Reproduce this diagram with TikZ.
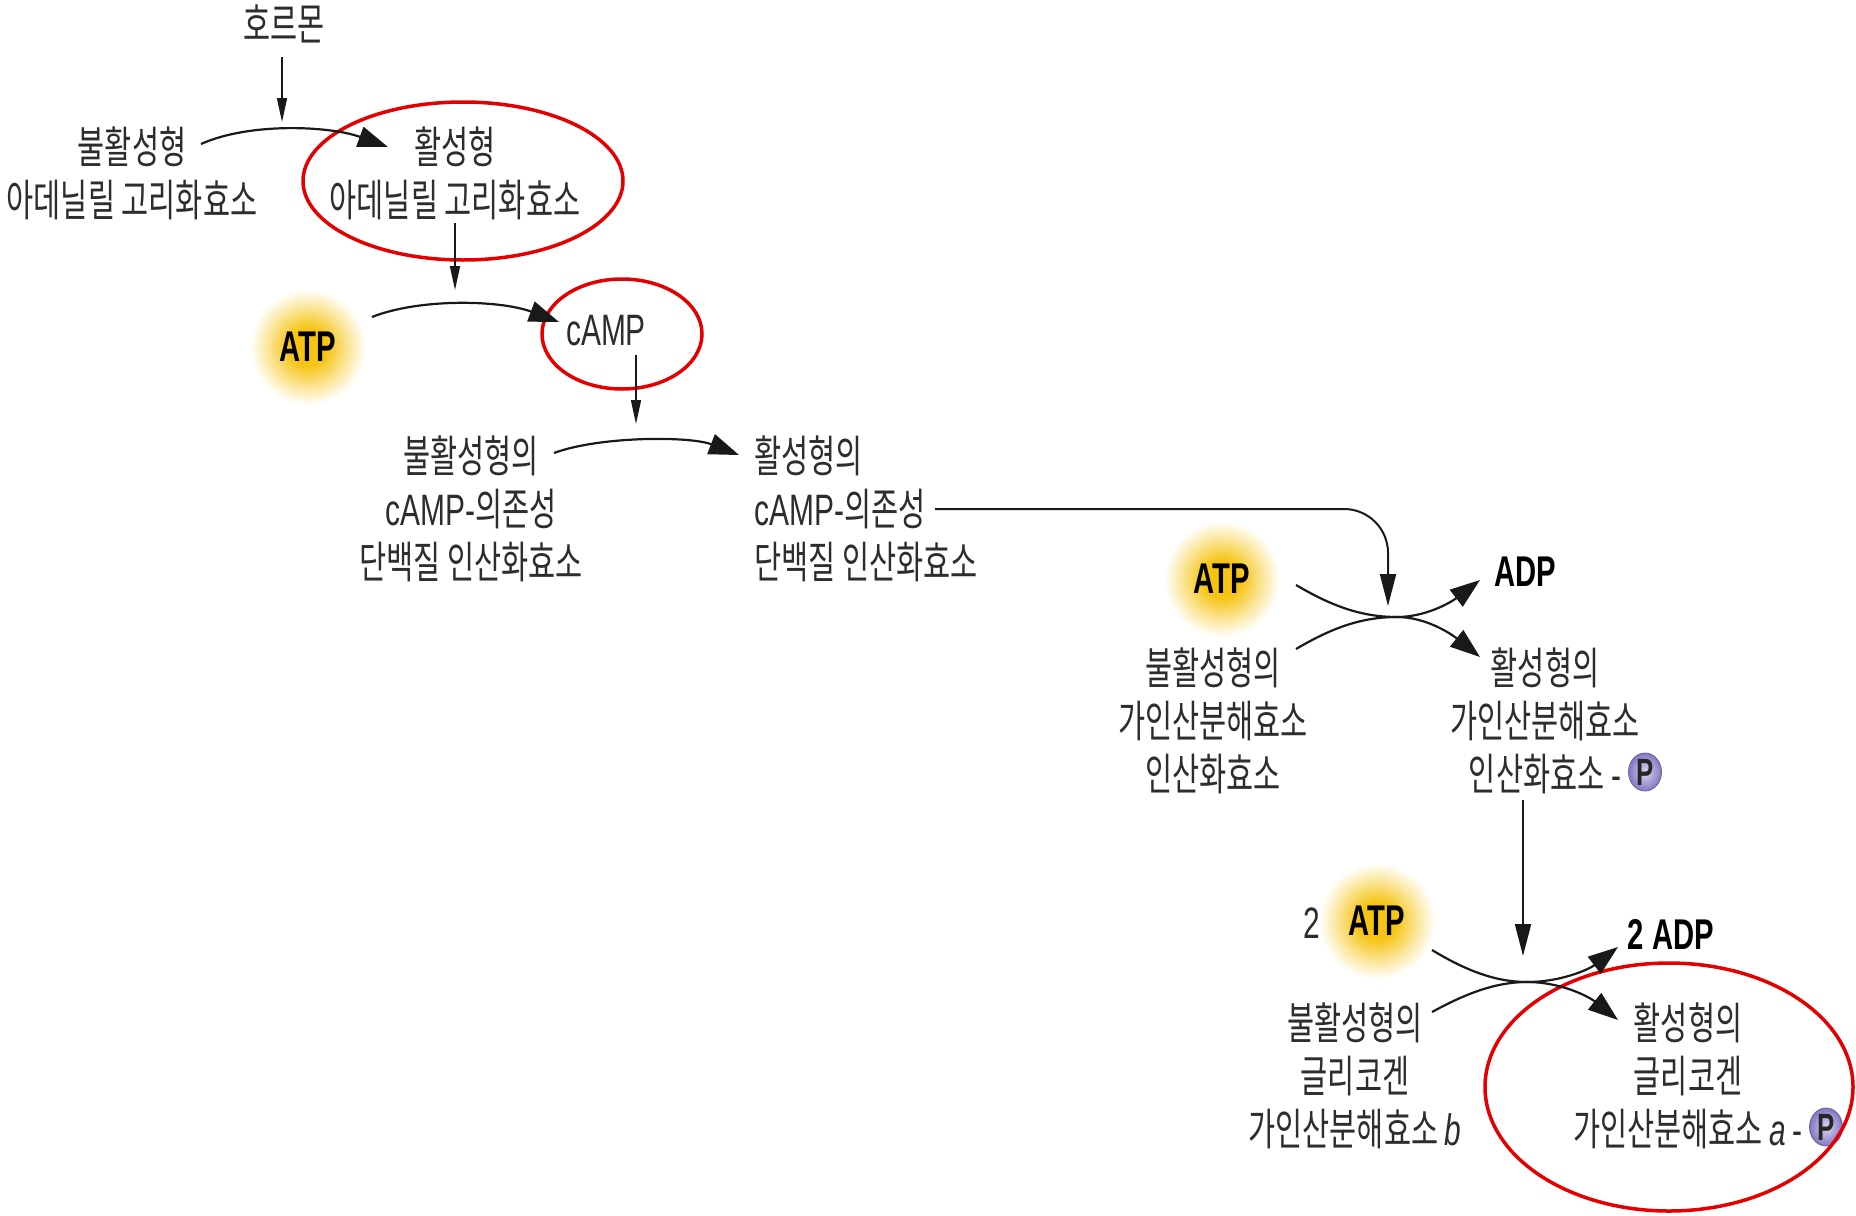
\documentclass[tikz,border=0pt]{standalone}
\usepackage{fontspec}
\newfontfamily\kr[FakeStretch=0.67]{Noto Sans CJK KR}
\newfontfamily\lat[FakeStretch=0.68]{Liberation Sans}
\usetikzlibrary{arrows.meta,shapes.geometric}
\definecolor{kc}{RGB}{45,45,45}
\definecolor{redc}{RGB}{228,0,0}
\definecolor{glowc}{RGB}{245,196,20}
\definecolor{pin}{RGB}{218,215,242}
\definecolor{pout}{RGB}{130,120,195}
\pgfdeclareradialshading{atpglow}{\pgfpoint{0bp}{0bp}}{color(0bp)=(glowc); color(8bp)=(glowc); color(17bp)=(glowc!45!white); color(25bp)=(white); color(50bp)=(white)}
\begin{document}
\begin{tikzpicture}[x=0.5pt,y=-0.5pt,
  lbl/.style={font=\kr\fontsize{22}{26.5}\selectfont, text=kc, align=center, inner sep=0pt},
  latlbl/.style={font=\lat\fontsize{22}{26.5}\selectfont, text=kc, inner sep=0pt},
  boldlbl/.style={font=\lat\bfseries\fontsize{21.5}{26.5}\selectfont, text=black, inner sep=0pt},
  glow/.style={circle, minimum size=58pt, inner sep=0pt, shade, shading=atpglow,
    font=\lat\bfseries\fontsize{21.5}{22}\selectfont, text=black},
  pball/.style={ellipse, minimum width=16.5pt, minimum height=19pt, inner sep=0pt,
    inner color=pin, outer color=pout, draw=pout!80!black, line width=0.4pt,
    font=\lat\bfseries\fontsize{19}{20}\selectfont, text=black!85},
  thinarr/.style={draw=black!90, line width=0.8pt, -{Triangle[length=12pt,width=5pt]}},
  curvarr/.style={draw=black!90, line width=1.1pt, -{Triangle[length=15pt,width=10.5pt]}},
  longarr/.style={draw=black!90, line width=1pt, -{Triangle[length=16pt,width=8pt]}},
  plain/.style={draw=black!90, line width=1.1pt},
  redell/.style={draw=redc, line width=1.75pt}
]
\useasboundingbox (0,0) rectangle (1856,1215);

% ---------- texts ----------
\node[lbl] (hormone) at (284,24) {호르몬};
\node[lbl] (adcyI) at (132,173) {불활성형\\아데닐릴 고리화효소};
\node[lbl] (adcyA) at (455,173) {활성형\\아데닐릴 고리화효소};
\node[glow] (atp1) at (308,347) {ATP};
\node[latlbl] (camp) at (606,331) {cAMP};
\node[lbl] (pkaI) at (471,509) {불활성형의\\{\lat cAMP-}의존성\\단백질 인산화효소};
\node[lbl, align=left, anchor=west] (pkaA) at (754,509) {활성형의\\{\lat cAMP-}의존성\\단백질 인산화효소};
\node[glow] (atp2) at (1222,579) {ATP};
\node[boldlbl] (adp1) at (1525,572) {ADP};
\node[lbl] (phkI) at (1213,721) {불활성형의\\가인산분해효소\\인산화효소};
\node[lbl] (phkA) at (1545,721) {활성형의\\가인산분해효소\\인산화효소 {\lat -}};
\node[pball] (p1) at (1645,772) {P};
\node[latlbl] (two) at (1312,923) {2};
\node[glow] (atp3) at (1377,921) {ATP};
\node[boldlbl] (adp2) at (1671,934) {2 ADP};
\node[lbl] (gpb) at (1355,1076) {불활성형의\\글리코겐\\가인산분해효소 {\lat\itshape b}};
\node[lbl] (gpa) at (1688,1076) {활성형의\\글리코겐\\가인산분해효소 {\lat\itshape a} {\lat -}};
\node[pball] (p2) at (1826,1127) {P};

% ---------- red ellipses ----------
\draw[redell] (463,181) ellipse [x radius=160, y radius=79];
\draw[redell] (622,334) ellipse [x radius=80, y radius=55];
\draw[redell] (1669,1087) ellipse [x radius=184, y radius=124];

% ---------- coordinates ----------
\coordinate (h0) at (282,57);
\coordinate (h1) at (282,122);
\coordinate (a0) at (201,144);
\coordinate (a1) at (388,147);
\coordinate (c0) at (455,223);
\coordinate (c1) at (455,290);
\coordinate (t0) at (372,317);
\coordinate (t1) at (559,322);
\coordinate (k0) at (636,355);
\coordinate (k1) at (636,424);
\coordinate (p0) at (554,453);
\coordinate (p1e) at (739,455);
\coordinate (l0) at (935,509);
\coordinate (lc) at (1388,509);
\coordinate (l1) at (1388,606);
\coordinate (r1s) at (1296,585);
\coordinate (r1m) at (1397,617);
\coordinate (r1t) at (1480,580);
\coordinate (r1u) at (1296,649);
\coordinate (r1v) at (1480,657);
\coordinate (v0) at (1523,800);
\coordinate (v1) at (1523,956);
\coordinate (r2s) at (1432,950);
\coordinate (r2m) at (1527,982);
\coordinate (r2t) at (1618,947);
\coordinate (r2u) at (1432,1012);
\coordinate (r2v) at (1618,1020);

% ---------- connectors ----------
\draw[thinarr] (h0) -- (h1);
\draw[curvarr] (a0) .. controls (250,122) and (330,126) .. (a1);
\draw[thinarr] (c0) -- (c1);
\draw[curvarr] (t0) .. controls (420,298) and (500,300) .. (t1);
\draw[thinarr] (k0) -- (k1);
\draw[curvarr] (p0) .. controls (600,436) and (690,436) .. (p1e);
\draw[longarr, rounded corners=22pt] (l0) -- (lc) -- (l1);
% reaction 1
\draw[plain] (r1s) .. controls (1330,605) and (1360,617) .. (r1m);
\draw[curvarr] (r1m) .. controls (1425,617) and (1450,603) .. (r1t);
\draw[plain] (r1u) .. controls (1330,629) and (1360,617) .. (r1m);
\draw[curvarr] (r1m) .. controls (1425,617) and (1450,633) .. (r1v);
% reaction 2
\draw[longarr] (v0) -- (v1);
\draw[plain] (r2s) .. controls (1465,970) and (1495,982) .. (r2m);
\draw[curvarr] (r2m) .. controls (1560,982) and (1588,970) .. (r2t);
\draw[plain] (r2u) .. controls (1465,994) and (1495,982) .. (r2m);
\draw[curvarr] (r2m) .. controls (1560,982) and (1588,996) .. (r2v);
\end{tikzpicture}
\end{document}
